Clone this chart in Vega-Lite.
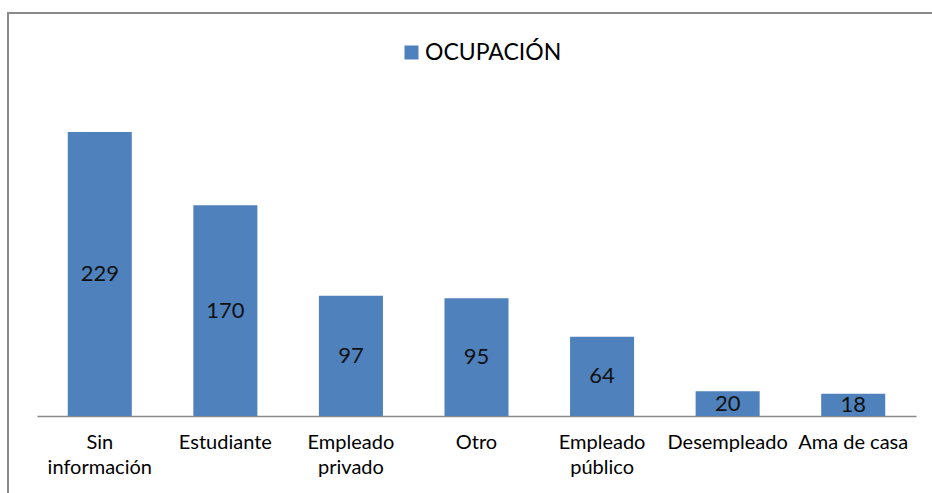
{
  "$schema": "https://vega.github.io/schema/vega-lite/v6.json",
  "autosize": {"type": "none"},
  "width": 925,
  "height": 481,
  "padding": {"left": 8, "top": 13, "right": 0, "bottom": 0},
  "background": "white",
  "config": {
    "view": {"stroke": "#8a8a8a", "strokeWidth": 2},
    "font": "Lato"
  },
  "data": {
    "values": [
      {"ocupacion": "Sin información", "valor": 229, "serie": "OCUPACIÓN"},
      {"ocupacion": "Estudiante", "valor": 170, "serie": "OCUPACIÓN"},
      {"ocupacion": "Empleado privado", "valor": 97, "serie": "OCUPACIÓN"},
      {"ocupacion": "Otro", "valor": 95, "serie": "OCUPACIÓN"},
      {"ocupacion": "Empleado público", "valor": 64, "serie": "OCUPACIÓN"},
      {"ocupacion": "Desempleado", "valor": 20, "serie": "OCUPACIÓN"},
      {"ocupacion": "Ama de casa", "valor": 18, "serie": "OCUPACIÓN"}
    ]
  },
  "encoding": {
    "x": {
      "field": "ocupacion",
      "type": "nominal",
      "sort": null,
      "scale": {"range": [29, 908], "paddingInner": 0.49, "paddingOuter": 0.245},
      "axis": {
        "title": null,
        "orient": "bottom",
        "offset": -78,
        "domainColor": "#8a8a8a",
        "domainWidth": 1.5,
        "ticks": false,
        "labelAngle": 0,
        "labelFont": "Lato",
        "labelFontSize": 20,
        "labelColor": "#000000",
        "labelPadding": 16,
        "labelLineHeight": 25,
        "labelBaseline": "top",
        "labelLimit": 200,
        "labelExpr": "indexof(['Sin información','Empleado privado','Empleado público'], datum.value) >= 0 ? split(datum.value, ' ') : datum.value"
      }
    }
  },
  "layer": [
    {
      "mark": {"type": "bar", "color": "#4F81BD"},
      "encoding": {
        "y": {
          "field": "valor",
          "type": "quantitative",
          "scale": {"domain": [0, 250], "range": [403, 93]},
          "axis": null
        },
        "color": {
          "field": "serie",
          "type": "nominal",
          "scale": {"range": ["#4F81BD"]},
          "legend": {
            "title": null,
            "orient": "none",
            "legendX": 392,
            "legendY": 28,
            "padding": 0,
            "symbolType": "square",
            "symbolSize": 196,
            "symbolStrokeWidth": 0,
            "symbolOpacity": 1,
            "labelFont": "Lato",
            "labelFontSize": 23,
            "labelColor": "#000000",
            "labelOffset": 2
          }
        }
      }
    },
    {
      "transform": [{"calculate": "datum.valor / 2", "as": "mitad"}],
      "mark": {"type": "text", "font": "Lato", "fontSize": 22, "color": "#111111", "baseline": "middle"},
      "encoding": {
        "y": {"field": "mitad", "type": "quantitative", "scale": {"domain": [0, 250], "range": [403, 93]}},
        "text": {"field": "valor", "type": "quantitative"}
      }
    }
  ]
}
